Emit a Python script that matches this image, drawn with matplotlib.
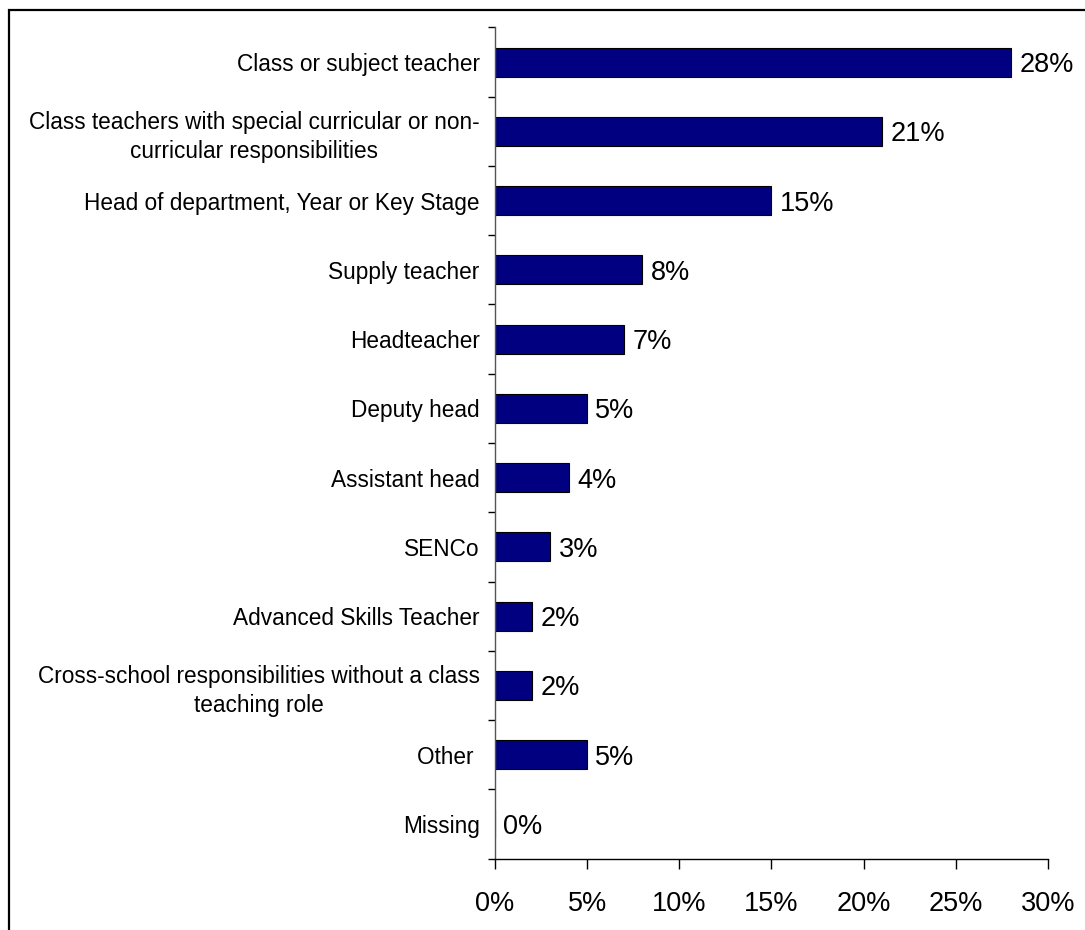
import numpy as np
import matplotlib
matplotlib.use("Agg")
from matplotlib import pyplot as plt
from matplotlib.patches import Rectangle

plt.rcParams['font.family'] = ['Liberation Sans', 'DejaVu Sans']

# data
roles = ['Class or subject teacher',
         'Class teachers with special curricular or non-\ncurricular responsibilities',
         'Head of department, Year or Key Stage',
         'Supply teacher',
         'Headteacher',
         'Deputy head',
         'Assistant head',
         'SENCo',
         'Advanced Skills Teacher',
         'Cross-school responsibilities without a class\nteaching role',
         'Other ',
         'Missing']
shares = [28, 21, 15, 8, 7, 5, 4, 3, 2, 2, 5, 0]
x_ticks = [0, 5, 10, 15, 20, 25, 30]

fig = plt.figure(figsize=(10.85, 9.3), dpi=100)
ax = fig.add_axes([0.4562, 0.0768, 0.5097, 0.8937])

# outer frame (runs off the right and bottom edges in the reference)
fig.patches.append(Rectangle((9 / 1085, -0.2), 1.5, 1.2 - 10 / 930,
                             transform=fig.transFigure, fill=False,
                             edgecolor='black', linewidth=1.6))

y = np.arange(len(roles))
ax.barh(y, shares, height=0.42, color='#000080', edgecolor='black', linewidth=0.8)
for yi, v in zip(y, shares):
    ax.text(v + 0.45, yi, f'{v}%', va='center_baseline', ha='left', fontsize=19.5)

ax.set_ylim(len(roles) - 0.5, -0.5)
ax.set_xlim(0, 30)
ax.set_yticks(y)
ax.set_yticklabels(roles, fontsize=16.3)
for lab in ax.get_yticklabels():
    lab.set_multialignment('center')
    lab.set_linespacing(1.35)
ax.set_yticks(np.arange(len(roles) + 1) - 0.5, minor=True)
ax.tick_params(axis='y', which='major', length=0, pad=11)
ax.tick_params(axis='y', which='minor', length=5, width=1, direction='out')

ax.set_xticks(x_ticks)
ax.set_xticklabels([f'{t}%' for t in x_ticks], fontsize=19.5)
ax.tick_params(axis='x', length=7, width=1, direction='out', pad=16)

for side in ['top', 'right']:
    ax.spines[side].set_visible(False)
ax.spines['left'].set_color('#555555')
ax.spines['left'].set_linewidth(1)
ax.spines['bottom'].set_linewidth(1)

fig.savefig('out.png', dpi=100)
